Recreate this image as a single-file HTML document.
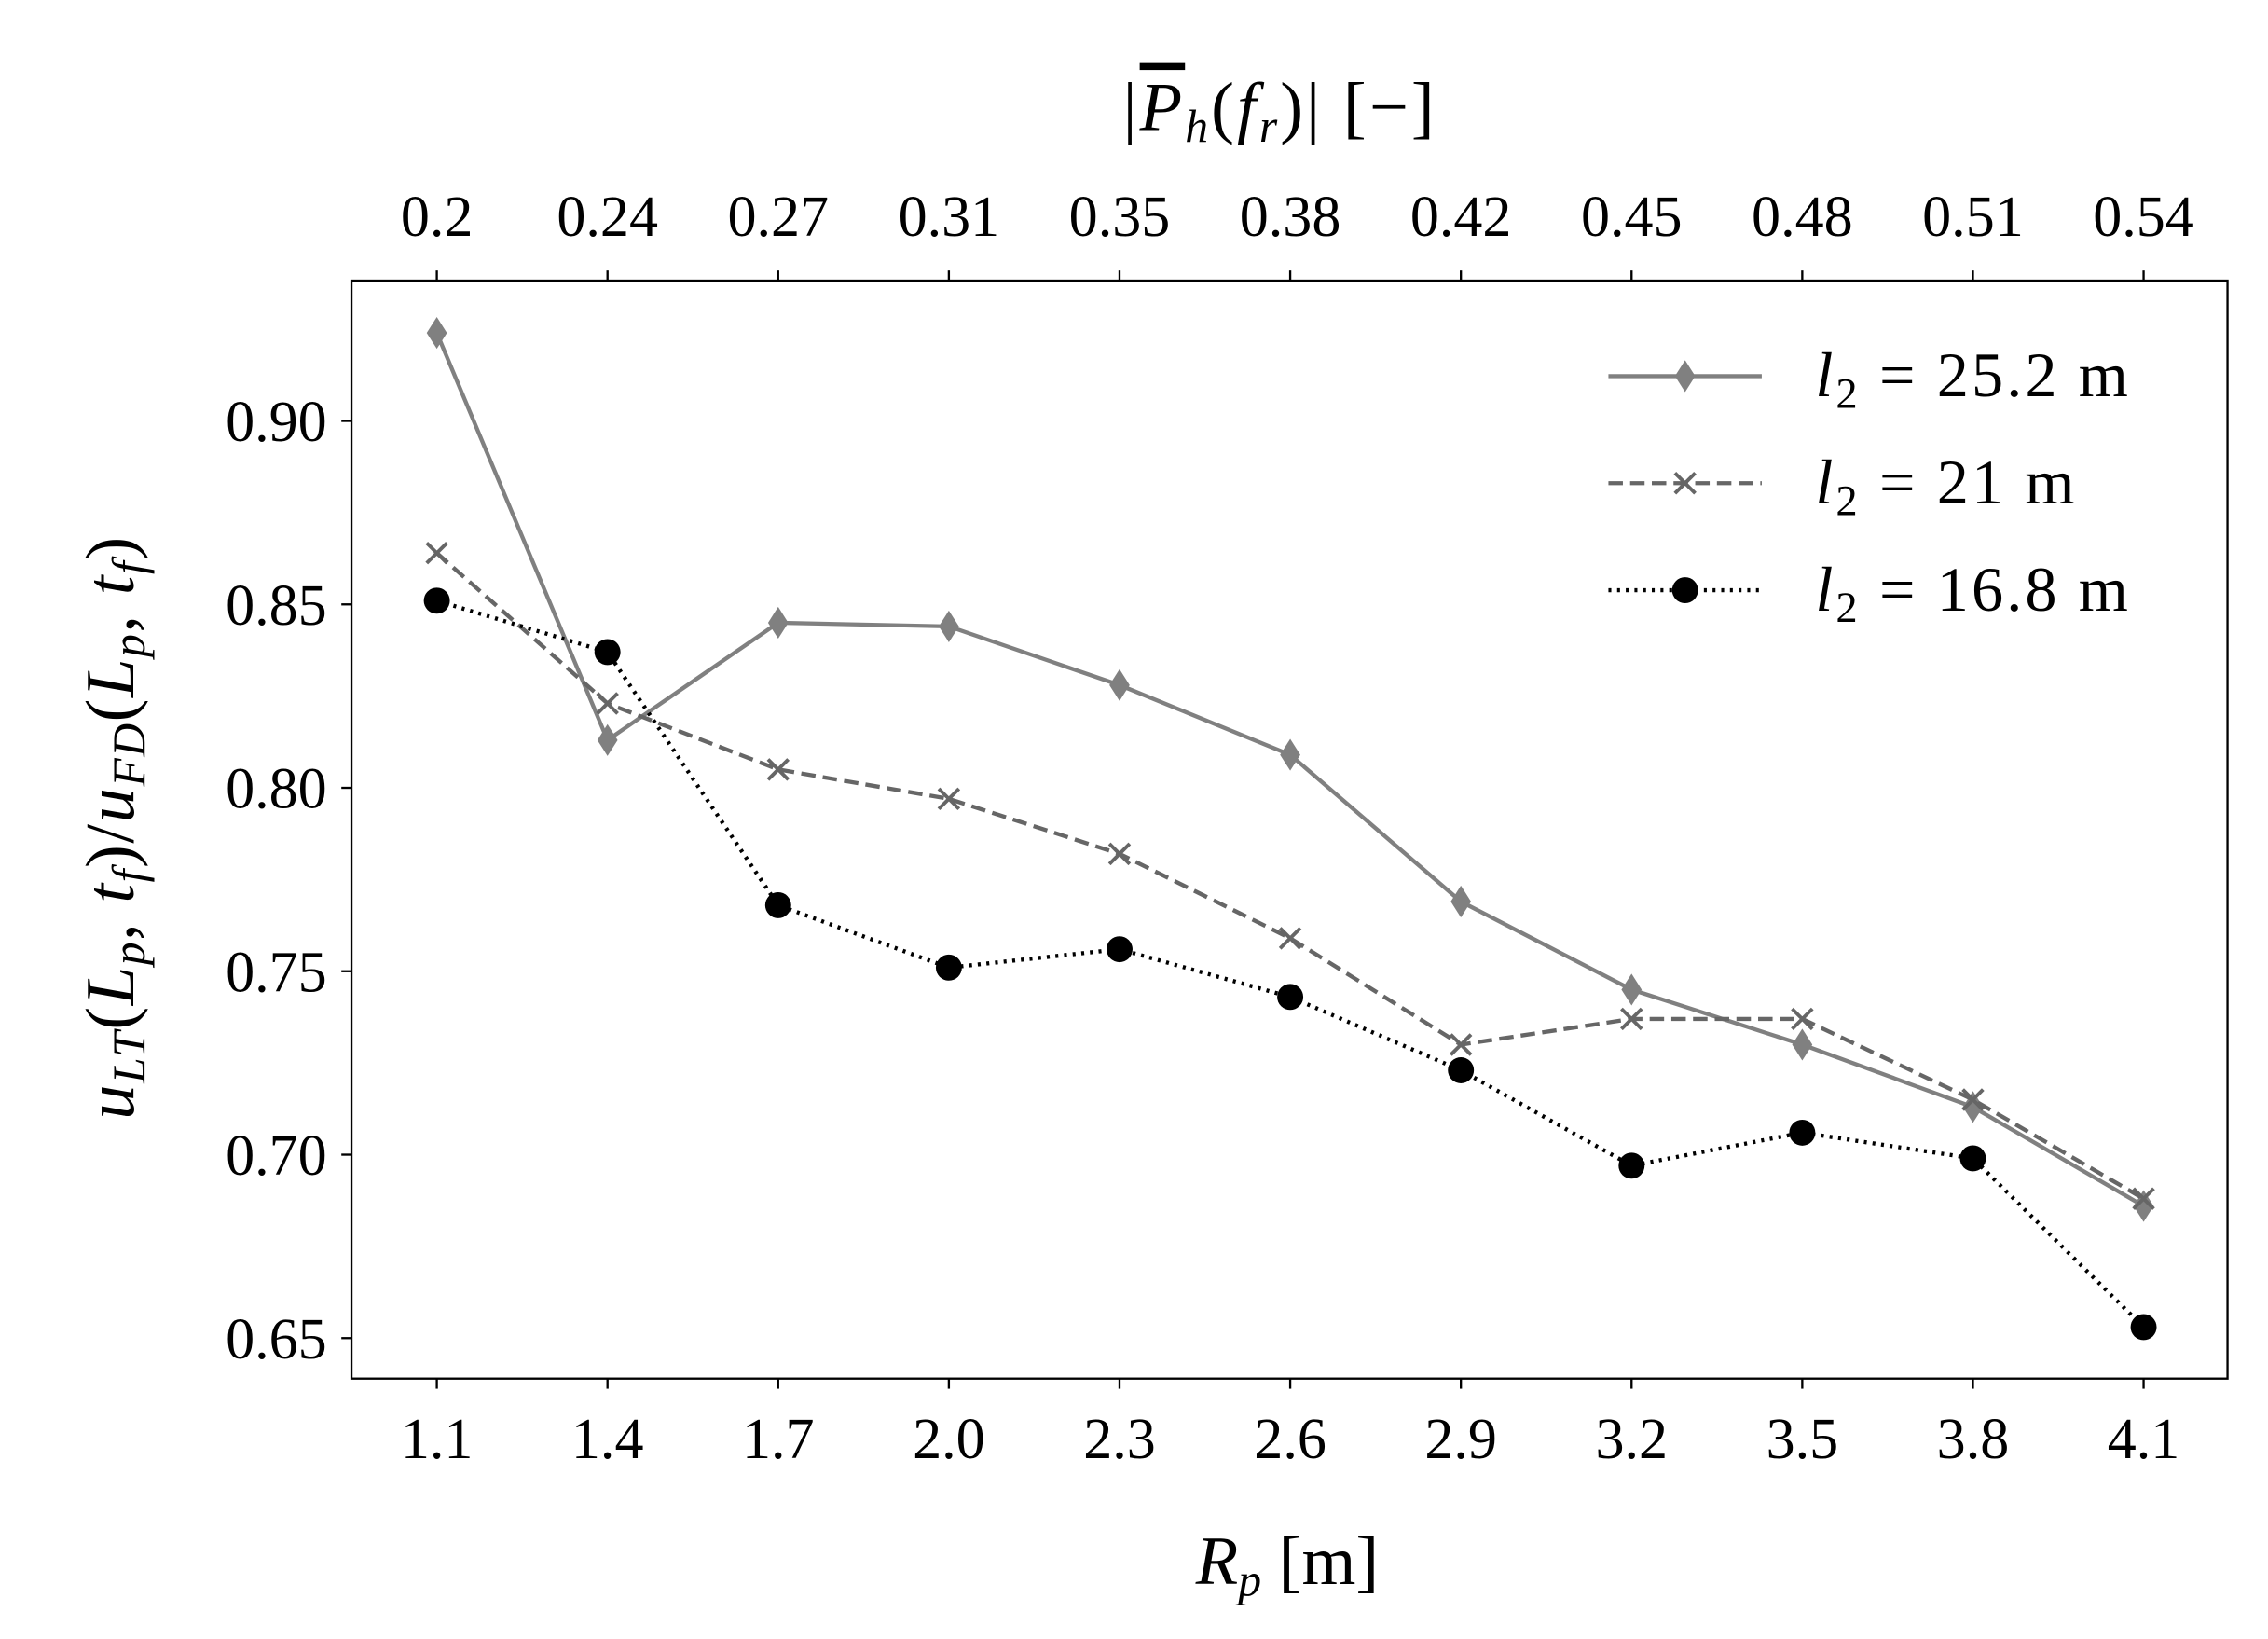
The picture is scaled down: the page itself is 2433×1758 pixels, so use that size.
<!DOCTYPE html>
<html><head><meta charset="utf-8"><style>body{margin:0;background:#fff}svg{display:block}</style></head>
<body>
<svg id="s" width="2433" height="1758" viewBox="0 0 1568 1133" preserveAspectRatio="none" xmlns="http://www.w3.org/2000/svg" font-family="Liberation Serif, serif">
<rect width="1568" height="1133" fill="#fff"/>
<g id="plot"></g>
<rect x="243" y="194" width="1297" height="759" fill="none" stroke="#000" stroke-width="1.5"/>
<g id="ticks" font-size="40" text-anchor="middle"></g>
<text x="890" y="1095" font-size="48" text-anchor="middle"><tspan font-style="italic">R</tspan><tspan font-style="italic" font-size="32" dy="8">p</tspan><tspan dy="-8"> [m]</tspan></text>
<text x="885" y="90" font-size="48" text-anchor="middle" letter-spacing="2">|<tspan font-style="italic" text-decoration="overline">P</tspan><tspan font-style="italic" font-size="32" dy="8">h</tspan><tspan dy="-8">(</tspan><tspan font-style="italic">f</tspan><tspan font-style="italic" font-size="32" dy="8">r</tspan><tspan dy="-8">)| [−]</tspan></text>
<text transform="translate(92,572) rotate(-90)" font-size="48" text-anchor="middle" letter-spacing="1"><tspan font-style="italic">u</tspan><tspan font-style="italic" font-size="32" dy="8">LT</tspan><tspan dy="-8">(</tspan><tspan font-style="italic">L</tspan><tspan font-style="italic" font-size="32" dy="8">p</tspan><tspan dy="-8">, </tspan><tspan font-style="italic">t</tspan><tspan font-style="italic" font-size="32" dy="8">f</tspan><tspan dy="-8">)/</tspan><tspan font-style="italic">u</tspan><tspan font-style="italic" font-size="32" dy="8">FD</tspan><tspan dy="-8">(</tspan><tspan font-style="italic">L</tspan><tspan font-style="italic" font-size="32" dy="8">p</tspan><tspan dy="-8">, </tspan><tspan font-style="italic">t</tspan><tspan font-style="italic" font-size="32" dy="8">f</tspan><tspan dy="-8">)</tspan></text>
<g id="legend" font-size="44" letter-spacing="2"></g>
</svg>
<script>
const NS="http://www.w3.org/2000/svg";
function el(p,t,a,txt){const e=document.createElementNS(NS,t);for(const k in a)e.setAttribute(k,a[k]);if(txt!==undefined)e.textContent=txt;p.appendChild(e);return e;}
const X=i=>302+i*118, Y=v=>291+(0.90-v)*2536;
const plot=document.getElementById('plot'),tk=document.getElementById('ticks'),lg=document.getElementById('legend');
const xl=["1.1","1.4","1.7","2.0","2.3","2.6","2.9","3.2","3.5","3.8","4.1"];
const tl=["0.2","0.24","0.27","0.31","0.35","0.38","0.42","0.45","0.48","0.51","0.54"];
for(let i=0;i<11;i++){
 el(tk,'line',{x1:X(i),x2:X(i),y1:953,y2:960,stroke:'#000','stroke-width':1.5});
 el(tk,'line',{x1:X(i),x2:X(i),y1:194,y2:187,stroke:'#000','stroke-width':1.5});
 el(tk,'text',{x:X(i),y:1008},xl[i]);
 el(tk,'text',{x:X(i),y:163},tl[i]);
}
[0.65,0.70,0.75,0.80,0.85,0.90].forEach(v=>{
 el(tk,'line',{x1:236,x2:243,y1:Y(v),y2:Y(v),stroke:'#000','stroke-width':1.5});
 el(tk,'text',{x:226,y:Y(v)+14,'text-anchor':'end'},v.toFixed(2));
});
const S=[
 {d:[0.924,0.813,0.845,0.844,0.828,0.809,0.769,0.745,0.730,0.713,0.686],c:'#808080',da:'',m:'d',lab:'25.2'},
 {d:[0.864,0.823,0.805,0.797,0.782,0.759,0.730,0.737,0.737,0.715,0.688],c:'#666',da:'10,5',m:'x',lab:'21'},
 {d:[0.851,0.837,0.768,0.751,0.756,0.743,0.723,0.697,0.706,0.699,0.653],c:'#000',da:'2,4',m:'o',lab:'16.8'}];
function mk(g,m,x,y,c){
 if(m=='d')el(g,'polygon',{points:`${x},${y-11} ${x+7},${y} ${x},${y+11} ${x-7},${y}`,fill:c});
 else if(m=='x'){el(g,'path',{d:`M${x-7},${y-7}L${x+7},${y+7}M${x-7},${y+7}L${x+7},${y-7}`,stroke:c,'stroke-width':2.5});}
 else el(g,'circle',{cx:x,cy:y,r:9,fill:c});
}
S.forEach((s,k)=>{
 el(plot,'polyline',{points:s.d.map((v,i)=>X(i)+','+Y(v)).join(' '),fill:'none',stroke:s.c,'stroke-width':2.8,'stroke-dasharray':s.da});
 s.d.forEach((v,i)=>mk(plot,s.m,X(i),Y(v),s.c));
 const ly=260+k*74;
 el(lg,'line',{x1:1112,x2:1218,y1:ly,y2:ly,stroke:s.c,'stroke-width':2.8,'stroke-dasharray':s.da});
 mk(lg,s.m,1165,ly,s.c);
 const t=el(lg,'text',{x:1255,y:ly+14});
 el(t,'tspan',{'font-style':'italic'},'l');
 el(t,'tspan',{'font-size':30,dy:8},'2');
 el(t,'tspan',{dy:-8},' = '+s.lab+' m');
});
</script>
</body></html>
